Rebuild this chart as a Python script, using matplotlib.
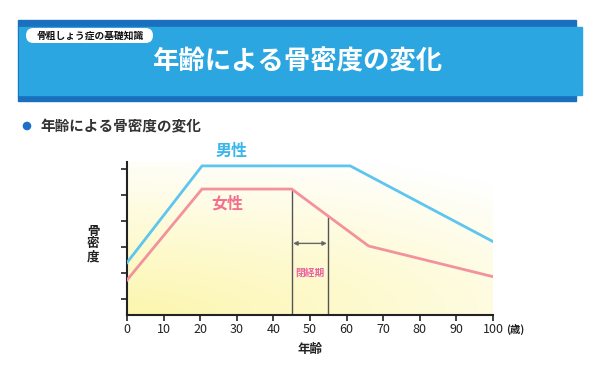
import numpy as np
import matplotlib
matplotlib.use("Agg")
import matplotlib.pyplot as plt
from matplotlib.patches import Rectangle, FancyBboxPatch, Circle

plt.rcParams['font.family'] = ['Noto Sans CJK JP', 'DejaVu Sans']

# data (age vs relative bone density)
male_age = [0, 20.5, 61, 100]
male_bmd = [2.41, 6.13, 6.13, 3.22]
female_age = [0, 20.5, 45, 66, 100]
female_bmd = [1.74, 5.24, 5.24, 3.05, 1.87]
meno_start, meno_end = 45, 55
xticks = [0, 10, 20, 30, 40, 50, 60, 70, 80, 90, 100]
yticks = [1, 2, 3, 4, 5, 6]

W, H = 600, 378
fig = plt.figure(figsize=(6, 3.78), dpi=100)
fig.patch.set_facecolor('white')

def fx(px):
    return px / W

def fy(py):
    return 1 - py / H

# overlay in pixel units for the header decoration
deco = fig.add_axes([0, 0, 1, 1])
deco.set_xlim(0, W)
deco.set_ylim(H, 0)
deco.axis('off')
deco.add_patch(Rectangle((18, 20), 558, 81, color='#1a6fbe', zorder=0))
deco.add_patch(Rectangle((19, 27), 563, 68, color='#2ba6e0', zorder=1))
deco.add_patch(FancyBboxPatch((26, 28), 127, 15,
                              boxstyle='round,pad=0,rounding_size=7.5',
                              facecolor='white', edgecolor='none', zorder=2))
deco.text(90, 35.5, '骨粗しょう症の基礎知識', fontsize=7, fontweight='bold',
          color='#111111', ha='center', va='center', zorder=3)
deco.text(298, 62, '年齢による骨密度の変化', fontsize=19, fontweight='bold',
          color='white', ha='center', va='center', zorder=3)
deco.add_patch(Circle((27, 126), 3.6, color='#1f6fc8', zorder=2))
deco.text(40, 126, '年齢による骨密度の変化', fontsize=10.5, fontweight='bold',
          color='#333333', ha='left', va='center')

ax = fig.add_axes([fx(127), fy(315), fx(493 - 127), (315 - 162) / H])
ax.set_xlim(0, 100)
ax.set_ylim(0.396, 6.28)

# soft yellow gradient background
gx, gy = np.meshgrid(np.linspace(0, 1, 200), np.linspace(0, 1, 100))
g = np.clip(1 - 0.7 * np.sqrt((gx * 0.9) ** 2 + (gy * 1.3) ** 2), 0, 1)
rgb = np.ones((100, 200, 3))
rgb[..., 0] = 1 - 0.01 * g
rgb[..., 1] = 1 - 0.035 * g
rgb[..., 2] = 1 - 0.32 * g
ax.imshow(rgb, extent=[0, 100, 0.396, 6.28], origin='lower', aspect='auto', zorder=0)

ax.plot(male_age, male_bmd, color='#5cc6f0', lw=2, solid_joinstyle='miter', zorder=3)
ax.plot(female_age, female_bmd, color='#f2929c', lw=2, solid_joinstyle='miter', zorder=3)

f_end = np.interp(meno_end, female_age, female_bmd)
f_start = np.interp(meno_start, female_age, female_bmd)
ax.plot([meno_start, meno_start], [0.396, f_start], color='#555555', lw=1, zorder=2)
ax.plot([meno_end, meno_end], [0.396, f_end], color='#555555', lw=1, zorder=2)
ax.annotate('', xy=(meno_start + 0.4, 3.15), xytext=(meno_end - 0.4, 3.15),
            arrowprops=dict(arrowstyle='<|-|>', color='#666666', lw=1,
                            mutation_scale=6, shrinkA=0, shrinkB=0))
ax.text(50, 2.02, '閉経期', fontsize=7, fontweight='bold', color='#ea64a0',
        ha='center', va='center')

ax.text(28.5, 6.72, '男性', fontsize=11.5, fontweight='bold', color='#3bb6ea',
        ha='center', va='center', clip_on=False)
ax.text(27.5, 4.67, '女性', fontsize=11.5, fontweight='bold', color='#f2708e',
        ha='center', va='center')

for s in ['top', 'right']:
    ax.spines[s].set_visible(False)
for s in ['left', 'bottom']:
    ax.spines[s].set_linewidth(1.5)
    ax.spines[s].set_color('#222222')
ax.set_xticks(xticks)
ax.set_yticks(yticks)
ax.set_yticklabels([])
ax.tick_params(axis='both', direction='out', length=4, width=1.2, color='#222222')
ax.tick_params(axis='x', labelsize=9, pad=2, labelcolor='#222222')

deco.text(506, 329, '(歳)', fontsize=7.5, fontweight='bold', color='#222222',
          ha='left', va='center')
deco.text(310, 349, '年齢', fontsize=9, fontweight='bold', color='#222222',
          ha='center', va='center')
deco.text(93, 244, '骨\n密\n度', fontsize=9, fontweight='bold', color='#222222',
          ha='center', va='center', linespacing=1.0)

fig.savefig('out.png', dpi=100)
